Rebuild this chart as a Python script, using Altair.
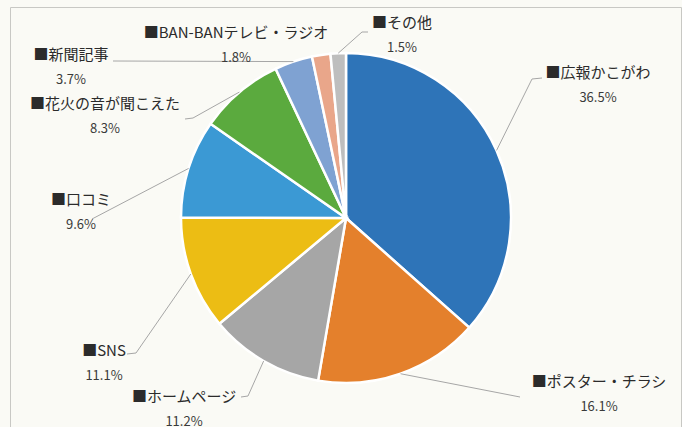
import math
import altair as alt
import pandas as pd

# ---- data ----
categories = ["広報かこがわ", "ポスター・チラシ", "ホームページ", "SNS", "口コミ",
              "花火の音が聞こえた", "新聞記事", "BAN-BANテレビ・ラジオ", "その他"]
values = [36.5, 16.1, 11.2, 11.1, 9.6, 8.3, 3.7, 1.8, 1.5]
colors = ["#2E74B8", "#E4802C", "#A6A6A6", "#ECBD14", "#3B99D4",
          "#5BAA3E", "#7FA2D2", "#E9A68A", "#BEBEBE"]

# ---- layout (image pixel coordinates) ----
W, H = 682, 427
PAD_L, PAD_T = 10, 7
CX, CY, R = 346, 218, 165
label_pos = {
    "広報かこがわ": (598, 73),
    "ポスター・チラシ": (599, 382),
    "ホームページ": (184, 397),
    "SNS": (104, 351),
    "口コミ": (81, 200),
    "花火の音が聞こえた": (105, 104),
    "新聞記事": (71, 55),
    "BAN-BANテレビ・ラジオ": (236, 33),
    "その他": (402, 23),
}
leader_start = {
    "広報かこがわ": [(542, 78), (532, 79)],
    "ポスター・チラシ": [(520, 397)],
    "ホームページ": [(241, 397), (248, 396)],
    "SNS": [(127, 354), (136, 353)],
    "口コミ": [(92, 219)],
    "花火の音が聞こえた": [(185, 119), (193, 118)],
    "新聞記事": [(113, 61)],
    "その他": [(368, 32), (362, 32)],
}

total = sum(values)
df = pd.DataFrame({
    "category": categories,
    "value": values,
    "idx": list(range(len(categories))),
    "label": ["■" + c for c in categories],
    "pct": [f"{v}%" for v in values],
    "lx": [label_pos[c][0] for c in categories],
    "ly": [label_pos[c][1] for c in categories],
})

rows = []
cum = 0.0
for c, v in zip(categories, values):
    mid = (cum + v / 2) / total * 2 * math.pi
    cum += v
    if c not in leader_start:
        continue
    pts = list(leader_start[c]) + [(CX + R * math.sin(mid), CY - R * math.cos(mid))]
    for i, (px, py) in enumerate(pts):
        rows.append({"category": c, "seq": i, "x": px, "y": py})
lines = pd.DataFrame(rows)

xs = alt.Scale(domain=[PAD_L, W - 1], range=[0, W - 1 - PAD_L])
ys = alt.Scale(domain=[PAD_T, H], range=[0, H - PAD_T])

pie = alt.Chart(df).mark_arc(radius=R, stroke="white", strokeWidth=2.5).encode(
    theta=alt.Theta("value:Q", stack=True),
    color=alt.Color("category:N", scale=alt.Scale(domain=categories, range=colors), legend=None),
    order=alt.Order("idx:Q"),
    x=alt.value(CX - PAD_L),
    y=alt.value(CY - PAD_T),
)

leaders = alt.Chart(lines).mark_line(color="#A6A6A6", strokeWidth=1).encode(
    x=alt.X("x:Q", scale=xs, axis=None),
    y=alt.Y("y:Q", scale=ys, axis=None),
    detail="category:N",
    order="seq:Q",
)

font = "Noto Sans CJK JP"
labels = alt.Chart(df).mark_text(font=font, fontSize=15, color="#2B2B2B", align="center", baseline="middle").encode(
    x=alt.X("lx:Q", scale=xs, axis=None),
    y=alt.Y("ly:Q", scale=ys, axis=None),
    text="label:N",
)
pcts = alt.Chart(df).mark_text(font=font, fontSize=13, color="#3A3A3A", align="center", baseline="middle", dy=25).encode(
    x=alt.X("lx:Q", scale=xs, axis=None),
    y=alt.Y("ly:Q", scale=ys, axis=None),
    text="pct:N",
)

chart = alt.layer(pie, leaders, labels, pcts).properties(
    width=W - 1 - PAD_L,
    height=H - PAD_T,
    autosize=alt.AutoSizeParams(type="none"),
    padding={"left": PAD_L, "top": PAD_T, "right": 1, "bottom": 0},
    background="#FAFAF5",
).configure_view(stroke="#C8C8C4", strokeWidth=1)

chart.save("out.html", embed_options={"renderer": "svg", "actions": False})
